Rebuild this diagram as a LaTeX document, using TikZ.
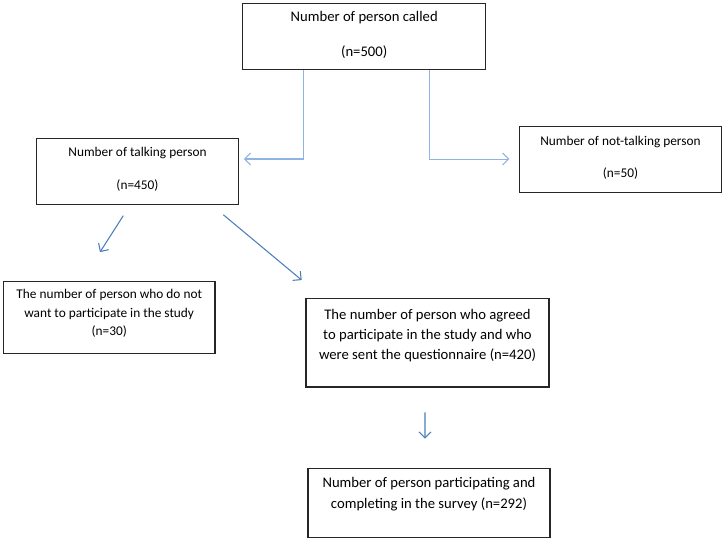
\documentclass[tikz,border=0pt]{standalone}
\usepackage{fontspec}
\setmainfont{Carlito}
\usetikzlibrary{arrows.meta}
\definecolor{lightconn}{HTML}{8DB4E2}
\definecolor{darkconn}{HTML}{4A7EBB}
% #1 width, #2 height, #3 font size, #4 baselineskip, #5 first baseline from top, #6 text
\newcommand\boxtext[6]{\parbox[c][#2][t]{#1}{\centering\fontsize{#3}{#4}\selectfont\vspace*{\dimexpr#5-9pt\relax}\rule{0pt}{9pt}#6\par}}
\begin{document}
\begin{tikzpicture}[x=0.75pt,y=-0.75pt,
  box/.style={draw=black!85, line width=0.9pt, inner sep=0pt, fill=white},
  lconn/.style={draw=lightconn, line width=0.8pt, -{Straight Barb[length=4.5pt,width=9pt]}},
  dconn/.style={draw=darkconn, line width=0.8pt, -{Straight Barb[length=4.5pt,width=9pt]}}]
\useasboundingbox (0,0) rectangle (725,540);
\node[box] (called) at (364.2,36.3) {\boxtext{182.25pt}{49.5pt}{11pt}{26.25pt}{14pt}{Number of person called\\(n=500)}};
\node[box] (talking) at (137.5,171.4) {\boxtext{151.2pt}{49.5pt}{10pt}{24.5pt}{13.8pt}{Number of talking person\\(n=450)}};
\node[box] (nottalking) at (620.5,159.7) {\boxtext{151.8pt}{49.5pt}{10pt}{23.7pt}{14.2pt}{Number of not-talking person\\(n=50)}};
\node[box] (refuse) at (109.2,317.5) {\boxtext{158.8pt}{53.7pt}{10pt}{14.1pt}{12.5pt}{The number of person who do not\\want to participate in the study\\(n=30)}};
\node[box] (agreed) at (427.5,342.75) {\boxtext{182.25pt}{66.4pt}{11pt}{15pt}{15.75pt}{The number of person who agreed\\to participate in the study and who\\were sent the questionnaire (n=420)}};
\node[box] (survey) at (429,502.9) {\boxtext{181.5pt}{51.9pt}{11pt}{15.5pt}{14.5pt}{Number of person participating and\\completing in the survey (n=292)}};
\draw[lconn, shorten >=3.75pt] ([xshift=-45.7pt]called.south) |- ([yshift=9.3pt]talking.east);
\draw[lconn, shorten >=7pt] ([xshift=48.8pt]called.south) |- ([yshift=0.5pt]nottalking.west);
\draw[dconn] ([xshift=-10.65pt,yshift=-8pt]talking.south) -- ([xshift=-6.9pt,yshift=21.75pt]refuse.north);
\draw[dconn] ([xshift=64.35pt,yshift=-7.3pt]talking.south) -- ([xshift=-94.35pt,yshift=13.35pt]agreed.north);
\draw[dconn] ([xshift=-1.9pt,yshift=-18.5pt]agreed.south) -- ([xshift=-3pt,yshift=21.75pt]survey.north);
\end{tikzpicture}
\end{document}
